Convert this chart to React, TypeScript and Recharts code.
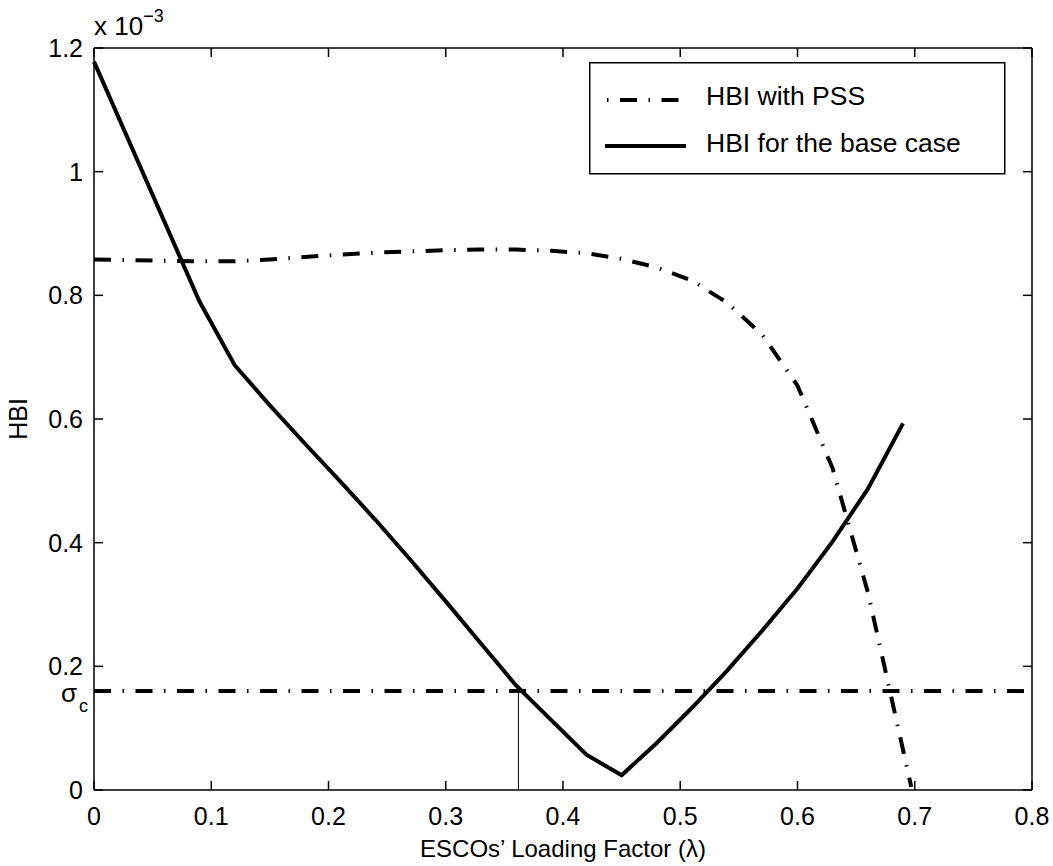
import React from 'react';
import { LineChart, Line, XAxis, YAxis, ReferenceLine, Legend } from 'recharts';

// lambda grid and HBI values (x 10^-3)
const LAMBDA_BASE = [0, 0.09, 0.12, 0.15, 0.18, 0.21, 0.24, 0.27, 0.3, 0.33, 0.36, 0.39, 0.42, 0.45, 0.48, 0.51, 0.54, 0.57, 0.6, 0.63, 0.66, 0.69];
const HBI_BASE = [1.178, 0.79, 0.687, 0.622, 0.56, 0.499, 0.437, 0.372, 0.305, 0.237, 0.169, 0.113, 0.057, 0.024, 0.076, 0.133, 0.193, 0.258, 0.326, 0.402, 0.487, 0.593];

const LAMBDA_PSS = [0, 0.03, 0.06, 0.09, 0.12, 0.15, 0.18, 0.21, 0.24, 0.27, 0.3, 0.33, 0.36, 0.39, 0.42, 0.45, 0.48, 0.51, 0.54, 0.57, 0.6, 0.63, 0.66, 0.69, 0.697];
const HBI_PSS = [0.858, 0.857, 0.856, 0.855, 0.855, 0.858, 0.862, 0.866, 0.869, 0.871, 0.873, 0.874, 0.874, 0.872, 0.868, 0.859, 0.845, 0.824, 0.788, 0.736, 0.654, 0.52, 0.32, 0.065, 0.005];

const SIGMA_C = 0.16;
const LAMBDA_C = 0.362;

const X_TICKS = [0, 0.1, 0.2, 0.3, 0.4, 0.5, 0.6, 0.7, 0.8];
const Y_TICKS = [0, 0.2, 0.4, 0.6, 0.8, 1, 1.2];

const baseData = LAMBDA_BASE.map((l, i) => ({ lambda: l, hbi: HBI_BASE[i] }));
const pssData = LAMBDA_PSS.map((l, i) => ({ lambda: l, hbi: HBI_PSS[i] }));

const W = 1053;
const H = 866;
const MARGIN = { top: 48, right: 21, bottom: 0, left: 34 };
const Y_AXIS_W = 60;
const X_AXIS_H = 76;
const PLOT_W = W - MARGIN.left - MARGIN.right - Y_AXIS_W;
const PLOT_H = H - MARGIN.top - MARGIN.bottom - X_AXIS_H;

const FONT = '"Liberation Sans", Arial, Helvetica, sans-serif';
const DASH_DOT = '17 11.5 1.5 11.5';
const TICK_LEN = 9;
const TICK_FONT = 25;

const XTick = (props: any) => {
  const { x, y, payload } = props;
  return (
    <g>
      <line x1={x} y1={y} x2={x} y2={y - TICK_LEN} stroke="#000" strokeWidth={1.5} />
      <line x1={x} y1={y - PLOT_H} x2={x} y2={y - PLOT_H + TICK_LEN} stroke="#000" strokeWidth={1.5} />
      <text x={x} y={y + 35} textAnchor="middle" fontSize={TICK_FONT} fontFamily={FONT} fill="#000">
        {String(payload.value)}
      </text>
    </g>
  );
};

const YTick = (props: any) => {
  const { x, y, payload } = props;
  return (
    <g>
      <line x1={x} y1={y} x2={x + TICK_LEN} y2={y} stroke="#000" strokeWidth={1.5} />
      <line x1={x + PLOT_W} y1={y} x2={x + PLOT_W - TICK_LEN} y2={y} stroke="#000" strokeWidth={1.5} />
      <text x={x - 11} y={y + 9} textAnchor="end" fontSize={TICK_FONT} fontFamily={FONT} fill="#000">
        {String(payload.value)}
      </text>
    </g>
  );
};

const YLabel = (props: any) => {
  const { viewBox } = props;
  const left = viewBox.x + viewBox.width; // plot left edge
  const top = viewBox.y;
  const cy = viewBox.y + viewBox.height / 2;
  return (
    <g fontFamily={FONT} fill="#000">
      <text x={27} y={cy} transform={`rotate(-90 27 ${cy})`} textAnchor="middle" fontSize={TICK_FONT}>
        HBI
      </text>
      <text x={left} y={top - 13} fontSize={26}>
        x 10
        <tspan fontSize={18} dy={-13}>−3</tspan>
      </text>
    </g>
  );
};

const XLabel = (props: any) => {
  const { viewBox } = props;
  const cx = viewBox.x + viewBox.width / 2;
  return (
    <text x={cx} y={viewBox.y + 67} textAnchor="middle" fontSize={24} fontFamily={FONT} fill="#000">
      ESCOs’ Loading Factor (λ)
    </text>
  );
};

const SigmaLabel = (props: any) => {
  const { viewBox } = props;
  const x = viewBox.x;
  const y = viewBox.y;
  return (
    <g fontFamily={FONT} fill="#000">
      <text x={x - 17} y={y + 11} textAnchor="end" fontSize={26}>σ</text>
      <text x={x - 15} y={y + 21} fontSize={18}>c</text>
    </g>
  );
};

const LegendBox = () => (
  <svg width={417} height={113} style={{ display: 'block' }}>
    <rect x={0.75} y={0.75} width={415} height={111} fill="#fff" stroke="#000" strokeWidth={1.5} />
    <line x1={18} y1={38} x2={96} y2={38} stroke="#000" strokeWidth={4} strokeDasharray="1.5 11.5 17 11.5" />
    <line x1={16} y1={84} x2={97} y2={84} stroke="#000" strokeWidth={4} />
    <text x={117} y={43} fontSize={26.5} fontFamily={FONT} fill="#000">HBI with PSS</text>
    <text x={117} y={90} fontSize={26.5} fontFamily={FONT} fill="#000">HBI for the base case</text>
  </svg>
);

export default function App() {
  return (
    <div style={{ position: 'absolute', left: 0, top: 0, background: '#fff' }}>
      <LineChart width={W} height={H} margin={MARGIN}>
        <XAxis
          dataKey="lambda"
          type="number"
          domain={[0, 0.8]}
          ticks={X_TICKS}
          interval={0}
          height={X_AXIS_H}
          tickSize={0}
          tickMargin={0}
          tickLine={false}
          tick={<XTick />}
          axisLine={{ stroke: '#000', strokeWidth: 1.5 }}
          label={XLabel}
        />
        <YAxis
          type="number"
          domain={[0, 1.2]}
          ticks={Y_TICKS}
          interval={0}
          width={Y_AXIS_W}
          tickSize={0}
          tickMargin={0}
          tickLine={false}
          tick={<YTick />}
          axisLine={{ stroke: '#000', strokeWidth: 1.5 }}
          label={YLabel}
        />
        <ReferenceLine y={1.2} stroke="#000" strokeWidth={1.5} />
        <ReferenceLine x={0.8} stroke="#000" strokeWidth={1.5} />
        <ReferenceLine
          segment={[{ x: LAMBDA_C, y: 0 }, { x: LAMBDA_C, y: SIGMA_C }]}
          stroke="#000"
          strokeWidth={1}
        />
        <ReferenceLine
          y={SIGMA_C}
          stroke="#000"
          strokeWidth={4}
          strokeDasharray={DASH_DOT}
          label={SigmaLabel}
        />
        <Line
          data={pssData}
          dataKey="hbi"
          type="linear"
          stroke="#000"
          strokeWidth={4}
          strokeDasharray={DASH_DOT}
          dot={false}
          activeDot={false}
          isAnimationActive={false}
        />
        <Line
          data={baseData}
          dataKey="hbi"
          type="linear"
          stroke="#000"
          strokeWidth={4}
          dot={false}
          activeDot={false}
          isAnimationActive={false}
        />
        <Legend
          layout="horizontal"
          verticalAlign="middle"
          align="center"
          content={LegendBox}
          wrapperStyle={{ left: 589, top: 62, width: 417, height: 113 }}
        />
      </LineChart>
    </div>
  );
}
